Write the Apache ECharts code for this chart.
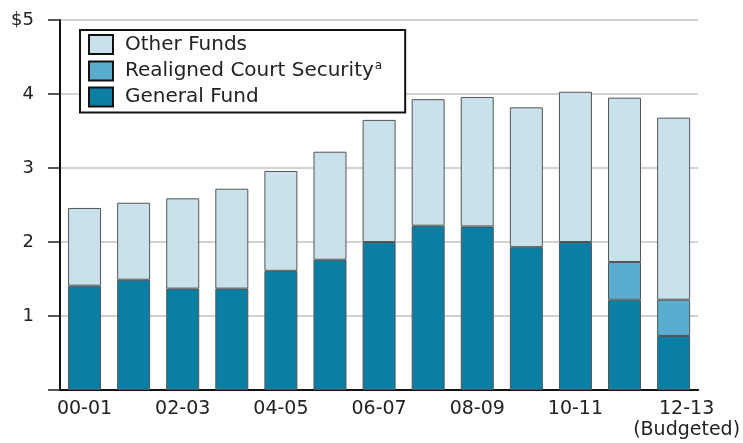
<!DOCTYPE html>
<html>
<head>
<meta charset="utf-8">
<script src="https://cdn.jsdelivr.net/npm/echarts@6/dist/echarts.min.js"></script>
<style>html,body{margin:0;padding:0;background:#fff}#c{width:743px;height:443px}</style>
</head>
<body>
<div id="c"></div>
<script>
const categories = ['00-01','01-02','02-03','03-04','04-05','05-06','06-07','07-08','08-09','09-10','10-11','11-12','12-13\n(Budgeted)'];
const generalFund = [1.41,1.49,1.37,1.37,1.61,1.76,2.00,2.22,2.21,1.93,2.00,1.22,0.73];
const realignedCourtSecurity = ['-','-','-','-','-','-','-','-','-','-','-',0.51,0.49];
const otherFunds = [1.05,1.04,1.22,1.35,1.35,1.46,1.65,1.71,1.75,1.89,2.03,2.22,2.46];
const yTicks = ['', '1', '2', '3', '4', '$5'];

const chart = echarts.init(document.getElementById('c'), null, {renderer:'canvas'});
const font = 'DejaVu Sans, sans-serif';
const border = {borderColor:'#555', borderWidth:1};
const lastIdx = categories.length - 1;
chart.setOption({
  animation:false,
  textStyle:{fontFamily:font},
  grid:{left:60,right:43,top:20,bottom:53,containLabel:false},
  legend:{
    orient:'vertical', left:80, top:30, icon:'rect',
    data:['Other Funds','Realigned Court Security','General Fund'],
    itemWidth:24, itemHeight:19, itemGap:5,
    padding:[4,23,5,8],
    borderColor:'#111', borderWidth:2, backgroundColor:'#fff',
    textStyle:{fontSize:20, color:'#222', fontFamily:font, padding:[0,0,0,7],
      rich:{sup:{fontSize:12, verticalAlign:'top', padding:[0,0,10,1], color:'#222', fontFamily:font}, n:{fontSize:20,color:'#222',fontFamily:font}}},
    formatter:function(n){ return n==='Realigned Court Security' ? '{n|'+n+'}{sup|a}' : n; },
    itemStyle:{borderColor:'#111', borderWidth:2}
  },
  xAxis:{
    type:'category', data:categories,
    axisLine:{lineStyle:{color:'#111', width:2}},
    axisTick:{show:false},
    axisLabel:{interval:1, fontSize:19, color:'#222', margin:9, lineHeight:21, fontFamily:font,
      formatter:function(v, i){
        if (i === lastIdx) { return v.split('\n').map(function(s){ return '{s|'+s+'}'; }).join('\n'); }
        return v;
      },
      rich:{s:{fontSize:19, color:'#222', lineHeight:21, fontFamily:font, padding:[0,0,0,26]}}
    }
  },
  yAxis:{
    type:'value', min:0, max:5, interval:1,
    axisLine:{show:true, lineStyle:{color:'#111', width:2}},
    axisTick:{show:true, length:12, lineStyle:{color:'#222', width:1.5}},
    splitLine:{lineStyle:{color:'#d2d2d2', width:2}},
    axisLabel:{fontSize:18, color:'#222', margin:26, fontFamily:font,
      formatter:function(v){ return yTicks[Math.round(v)]; }}
  },
  series:[
    {name:'General Fund', type:'bar', stack:'t', data:generalFund, barWidth:33,
      itemStyle:Object.assign({color:'#0b7fa3'}, border)},
    {name:'Realigned Court Security', type:'bar', stack:'t', data:realignedCourtSecurity, barWidth:33,
      itemStyle:Object.assign({color:'#5badcf'}, border)},
    {name:'Other Funds', type:'bar', stack:'t', data:otherFunds, barWidth:33,
      itemStyle:Object.assign({color:'#c8e1eb'}, border)}
  ]
});
</script>
</body>
</html>
